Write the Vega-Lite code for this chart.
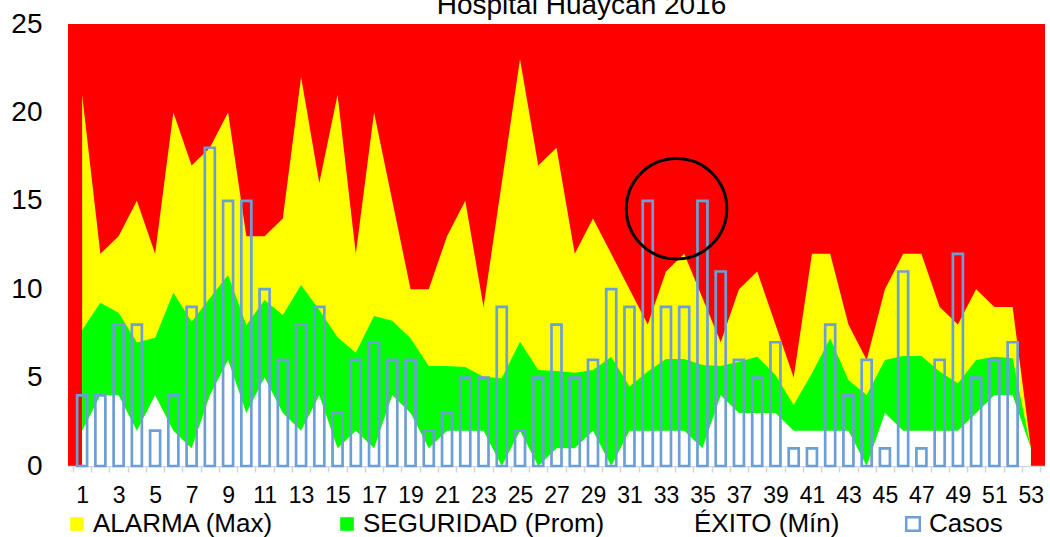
{
  "$schema": "https://vega.github.io/schema/vega-lite/v6.json",
  "width": 977,
  "height": 442,
  "autosize": {"type": "none"},
  "padding": {"left": 68, "top": 24, "right": 5, "bottom": 71},
  "background": "white",
  "view": {"fill": "#FF0000", "stroke": null},
  "title": {
    "text": "Hospital Huaycan 2016",
    "font": "Liberation Sans",
    "fontSize": 28,
    "fontWeight": "normal",
    "color": "#000000",
    "anchor": "middle",
    "frame": "group",
    "baseline": "alphabetic",
    "dx": 25,
    "dy": 32,
    "offset": 0
  },
  "config": {
    "font": "Liberation Sans",
    "axisY": {
      "domain": false,
      "ticks": false,
      "grid": false,
      "labelFont": "Liberation Sans",
      "labelFontSize": 28,
      "labelColor": "#000000",
      "labelPadding": 26
    },
    "axisX": {
      "grid": false,
      "labelFont": "Liberation Sans",
      "labelFontSize": 23,
      "labelColor": "#000000"
    }
  },
  "datasets": {
    "weeks": [
      {"week": 1, "max": 21, "prom": 7.69, "min": 2, "casos": 4},
      {"week": 2, "max": 12, "prom": 9.24, "min": 4, "casos": 4},
      {"week": 3, "max": 13, "prom": 8.67, "min": 4, "casos": 8},
      {"week": 4, "max": 15, "prom": 6.98, "min": 2, "casos": 8},
      {"week": 5, "max": 12, "prom": 7.26, "min": 4, "casos": 2},
      {"week": 6, "max": 20, "prom": 9.8, "min": 2, "casos": 4},
      {"week": 7, "max": 17, "prom": 8.16, "min": 1, "casos": 9},
      {"week": 8, "max": 18, "prom": 9.5, "min": 4, "casos": 18},
      {"week": 9, "max": 20, "prom": 10.8, "min": 6, "casos": 15},
      {"week": 10, "max": 13, "prom": 7.97, "min": 3, "casos": 15},
      {"week": 11, "max": 13, "prom": 9.39, "min": 5, "casos": 10},
      {"week": 12, "max": 14, "prom": 8.54, "min": 3, "casos": 6},
      {"week": 13, "max": 22, "prom": 10.24, "min": 2, "casos": 8},
      {"week": 14, "max": 16, "prom": 8.82, "min": 4, "casos": 9},
      {"week": 15, "max": 21, "prom": 7.28, "min": 1, "casos": 3},
      {"week": 16, "max": 12, "prom": 6.41, "min": 2, "casos": 6},
      {"week": 17, "max": 20, "prom": 8.48, "min": 1, "casos": 7},
      {"week": 18, "max": 15, "prom": 8.22, "min": 4, "casos": 6},
      {"week": 19, "max": 10, "prom": 7.22, "min": 3, "casos": 6},
      {"week": 20, "max": 10, "prom": 5.66, "min": 1, "casos": 2},
      {"week": 21, "max": 13, "prom": 5.66, "min": 2, "casos": 3},
      {"week": 22, "max": 15, "prom": 5.6, "min": 2, "casos": 5},
      {"week": 23, "max": 9, "prom": 5.05, "min": 2, "casos": 5},
      {"week": 24, "max": 16, "prom": 4.96, "min": 0, "casos": 9},
      {"week": 25, "max": 23, "prom": 7.03, "min": 2, "casos": 2},
      {"week": 26, "max": 17, "prom": 5.43, "min": 0, "casos": 5},
      {"week": 27, "max": 18, "prom": 5.37, "min": 1, "casos": 8},
      {"week": 28, "max": 12, "prom": 5.28, "min": 1, "casos": 5},
      {"week": 29, "max": 14, "prom": 5.43, "min": 2, "casos": 6},
      {"week": 30, "max": 12, "prom": 6.18, "min": 0, "casos": 10},
      {"week": 31, "max": 10, "prom": 4.49, "min": 2, "casos": 9},
      {"week": 32, "max": 8, "prom": 5.34, "min": 2, "casos": 15},
      {"week": 33, "max": 11, "prom": 6.05, "min": 2, "casos": 9},
      {"week": 34, "max": 12, "prom": 6.05, "min": 2, "casos": 9},
      {"week": 35, "max": 9.5, "prom": 5.71, "min": 1, "casos": 15},
      {"week": 36, "max": 7, "prom": 5.66, "min": 4, "casos": 11},
      {"week": 37, "max": 10, "prom": 5.9, "min": 3, "casos": 6},
      {"week": 38, "max": 11, "prom": 6.18, "min": 3, "casos": 5},
      {"week": 39, "max": 8, "prom": 5.15, "min": 3, "casos": 7},
      {"week": 40, "max": 5, "prom": 3.45, "min": 2, "casos": 1},
      {"week": 41, "max": 12, "prom": 5.24, "min": 2, "casos": 1},
      {"week": 42, "max": 12, "prom": 7.22, "min": 2, "casos": 8},
      {"week": 43, "max": 8, "prom": 4.86, "min": 2, "casos": 4},
      {"week": 44, "max": 6, "prom": 4.02, "min": 0, "casos": 6},
      {"week": 45, "max": 10, "prom": 6.0, "min": 3, "casos": 1},
      {"week": 46, "max": 12, "prom": 6.22, "min": 2, "casos": 11},
      {"week": 47, "max": 12, "prom": 6.22, "min": 2, "casos": 1},
      {"week": 48, "max": 9, "prom": 5.34, "min": 2, "casos": 6},
      {"week": 49, "max": 8, "prom": 4.68, "min": 2, "casos": 12},
      {"week": 50, "max": 10, "prom": 6.0, "min": 3, "casos": 5},
      {"week": 51, "max": 9, "prom": 6.18, "min": 4, "casos": 6},
      {"week": 52, "max": 9, "prom": 6.09, "min": 4, "casos": 7},
      {"week": 53, "max": 1, "prom": 1, "min": 1, "casos": null}
    ],
    "note": [{"week": 33.58, "value": 14.55}]
  },
  "data": {"name": "weeks"},
  "encoding": {
    "x": {
      "field": "week",
      "type": "quantitative",
      "scale": {"domain": [0.5, 53.5], "nice": false, "zero": false},
      "axis": {
        "title": null,
        "values": [0.5, 1, 1.5, 2, 2.5, 3, 3.5, 4, 4.5, 5, 5.5, 6, 6.5, 7, 7.5, 8, 8.5, 9, 9.5, 10, 10.5, 11, 11.5, 12, 12.5, 13, 13.5, 14, 14.5, 15, 15.5, 16, 16.5, 17, 17.5, 18, 18.5, 19, 19.5, 20, 20.5, 21, 21.5, 22, 22.5, 23, 23.5, 24, 24.5, 25, 25.5, 26, 26.5, 27, 27.5, 28, 28.5, 29, 29.5, 30, 30.5, 31, 31.5, 32, 32.5, 33, 33.5, 34, 34.5, 35, 35.5, 36, 36.5, 37, 37.5, 38, 38.5, 39, 39.5, 40, 40.5, 41, 41.5, 42, 42.5, 43, 43.5, 44, 44.5, 45, 45.5, 46, 46.5, 47, 47.5, 48, 48.5, 49, 49.5, 50, 50.5, 51, 51.5, 52, 52.5, 53, 53.5],
        "labelExpr": "datum.value % 2 == 1 ? '' + datum.value : ''",
        "labelOverlap": false,
        "labelFlush": false,
        "labelPadding": 12,
        "domainColor": "#CDD5DF",
        "domainWidth": 1.5,
        "tickColor": "#CDD5DF",
        "tickWidth": 1.5,
        "tickSize": 6,
        "tickOpacity": {"condition": {"test": "datum.value % 1 != 0", "value": 1}, "value": 0}
      }
    }
  },
  "layer": [
    {
      "mark": {"type": "area", "interpolate": "linear"},
      "encoding": {
        "y": {
          "field": "max",
          "type": "quantitative",
          "scale": {"domain": [0, 25], "nice": false},
          "axis": {"title": null, "values": [0, 5, 10, 15, 20, 25]}
        },
        "fill": {
          "datum": "ALARMA (Max)",
          "type": "nominal",
          "scale": {
            "domain": ["ALARMA (Max)", "SEGURIDAD (Prom)", "ÉXITO (Mín)", "Casos"],
            "range": ["#FFFF00", "#00FF00", "#FFFFFF", "#FFFFFF"]
          },
          "legend": {
            "title": null,
            "orient": "none",
            "direction": "horizontal",
            "legendX": -4,
            "legendY": 487,
            "padding": 0,
            "symbolType": "square",
            "symbolSize": 185,
            "symbolStrokeWidth": 0,
            "labelFont": "Liberation Sans",
            "labelFontSize": 26,
            "labelColor": "#000000",
            "labelOffset": 3,
            "labelLimit": 400,
            "columnPadding": 60,
            "gridAlign": "none",
            "encode": {
              "symbols": {
                "update": {
                  "stroke": {"signal": "datum.label === 'Casos' ? '#6C9FD6' : 'transparent'"},
                  "strokeWidth": {"value": 2.5}
                }
              }
            }
          }
        }
      }
    },
    {
      "mark": {"type": "area", "interpolate": "linear"},
      "encoding": {
        "y": {"field": "prom", "type": "quantitative", "axis": {"title": null}},
        "fill": {"datum": "SEGURIDAD (Prom)", "type": "nominal"}
      }
    },
    {
      "mark": {"type": "area", "interpolate": "linear"},
      "encoding": {
        "y": {"field": "min", "type": "quantitative", "axis": {"title": null}},
        "fill": {"datum": "ÉXITO (Mín)", "type": "nominal"}
      }
    },
    {
      "mark": {"type": "bar", "filled": false, "width": 10, "stroke": "#6C9FD6", "strokeWidth": 2.7},
      "encoding": {
        "y": {"field": "casos", "type": "quantitative", "axis": {"title": null}}
      }
    },
    {
      "data": {"name": "note"},
      "mark": {"type": "point", "shape": "circle", "filled": false, "size": 10100, "stroke": "#000000", "strokeWidth": 3, "opacity": 1},
      "encoding": {
        "y": {"field": "value", "type": "quantitative", "axis": {"title": null}}
      }
    }
  ]
}
